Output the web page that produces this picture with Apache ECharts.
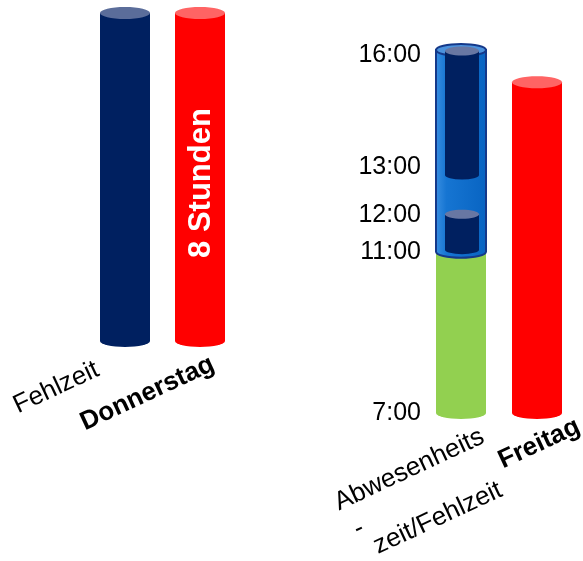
<!DOCTYPE html>
<html><head><meta charset="utf-8">
<script src="https://cdn.jsdelivr.net/npm/echarts@6/dist/echarts.min.js"></script>
<style>html,body{margin:0;padding:0;background:#fff}#c{width:583px;height:561px}</style>
</head><body><div id="c"></div>
<script>
// ---------- data ----------
const leftCategories = ['Fehlzeit', 'Donnerstag'];
const leftHours = [8, 8];
const leftBarText = '8 Stunden';
const rightCategories = ['Abwesenheits\n-\nzeit/Fehlzeit', 'Freitag'];
const absenceHours = [7, 11];          // green
const missingHours = [11, 16];         // blue
const navyHours = [[11, 11.95], [12.85, 16]];
const fridayHours = [7, 15.2];
const timeTicks = [7, 11, 12, 13, 16];

// ---------- styles ----------
const FONT = "'Liberation Sans', Arial, sans-serif";
const COL = {
  navy: '#002060', navyTop: '#5B6D9A',
  red: '#FF0000', redTop: '#FF6464',
  green: '#92D050', greenTop: '#B3E08A',
  blueStroke: '#15398A', blueTop: '#4B92DD',
  innerTop: '#6877A3'
};
const leftBold = [false, true];
const rightBold = [false, true];
const leftLabelOffset = [[-110, 66], [-118, 83]];
const rightLabelOffset = [[-125, 91], [-37, 49]];
const lineOffsets = [[0, 0], [6, 32], [17, 56]];
const tickShift = {16: 5, 13: -4, 12: 4};

function cylinder(cx, yTop, yBot, w, ry, fill, topFill, stroke, lw) {
  const rx = w / 2, l = cx - rx, r = cx + rx;
  return [
    {type: 'path', shape: {pathData: `M${l} ${yTop}L${l} ${yBot}A${rx} ${ry} 0 0 0 ${r} ${yBot}L${r} ${yTop}Z`},
     style: {fill: fill, stroke: stroke || null, lineWidth: lw || 0}},
    {type: 'ellipse', shape: {cx: cx, cy: yTop, rx: rx, ry: ry},
     style: {fill: topFill, stroke: stroke || null, lineWidth: lw || 0}}
  ];
}

const leftItems = leftHours.map((h, i) => ({cat: i, range: [0, h], kind: i === 0 ? 'navy' : 'red'}));
const rightItems = [
  {cat: 0, range: absenceHours, kind: 'green'},
  {cat: 0, range: missingHours, kind: 'blue'},
  ...navyHours.map(r => ({cat: 0, range: r, kind: 'inner'})),
  {cat: 1, range: fridayHours, kind: 'red'}
];

function makeRender(items) {
  return function (params, api) {
    const it = items[params.dataIndex];
    const b = api.coord([api.value(0), api.value(1)]);
    const t = api.coord([api.value(0), api.value(2)]);
    const cx = b[0];
    let children;
    if (it.kind === 'navy') children = cylinder(cx, t[1], b[1], 50, 6, COL.navy, COL.navyTop);
    else if (it.kind === 'red') children = cylinder(cx, t[1], b[1], 50, 6, COL.red, COL.redTop);
    else if (it.kind === 'green') children = cylinder(cx, t[1], b[1], 50, 6, COL.green, COL.greenTop);
    else if (it.kind === 'blue') {
      const grad = new echarts.graphic.LinearGradient(0, 0, 1, 0, [
        {offset: 0, color: '#3A8FE2'}, {offset: 0.22, color: '#1675D2'}, {offset: 1, color: '#0864C2'}]);
      children = cylinder(cx, t[1], b[1], 50, 6, grad, COL.blueTop, COL.blueStroke, 2);
    } else {
      children = cylinder(cx + 1, t[1] + 1, b[1] - 2, 34, 4.5, COL.navy, COL.innerTop);
    }
    if (params.seriesIndex === 0 && it.kind === 'red') {
      const m = api.coord([api.value(0), (api.value(1) + api.value(2)) / 2]);
      children.push({type: 'text', x: m[0] + 1, y: m[1] + 6, rotation: Math.PI / 2,
        style: {text: leftBarText, fill: '#fff', fontSize: 31, fontWeight: 'bold', fontFamily: FONT,
                align: 'center', verticalAlign: 'middle'}});
    }
    return {type: 'group', children: children};
  };
}

function makeLabelRender(cats, bold, offsets) {
  return function (params, api) {
    const i = params.dataIndex;
    const p = api.coord([api.value(0), api.value(1)]);
    const lines = cats[i].split('\n');
    return {
      type: 'group', x: p[0] + offsets[i][0], y: p[1] + offsets[i][1], rotation: 25 * Math.PI / 180,
      children: lines.map((s, k) => ({
        type: 'text', x: lineOffsets[k][0], y: lineOffsets[k][1],
        style: {text: s, fill: '#000', fontSize: 26, fontWeight: bold[i] ? 'bold' : 'normal',
                fontFamily: FONT, align: 'left', verticalAlign: 'middle'}
      }))
    };
  };
}

function tickFmt(v) {
  if (!timeTicks.includes(v)) return '';
  const s = tickShift[v];
  if (!s) return v + ':00';
  return (s > 0 ? '{dn' : '{up') + Math.abs(s) + '|' + v + ':00}';
}
const rich = {};
[3, 4, 5, 6].forEach(n => {
  rich['dn' + n] = {color: '#000', fontSize: 25, fontFamily: FONT, padding: [2 * n, 0, 0, 0]};
  rich['up' + n] = {color: '#000', fontSize: 25, fontFamily: FONT, padding: [0, 0, 2 * n, 0]};
});

const chart = echarts.init(document.getElementById('c'), null, {renderer: 'canvas'});
chart.setOption({
  animation: false,
  backgroundColor: '#ffffff',
  grid: [
    {left: 87.5, width: 150, top: 13, height: 328},
    {left: 423, width: 152, top: 50, height: 363}
  ],
  xAxis: [
    {type: 'category', gridIndex: 0, data: leftCategories, show: false},
    {type: 'category', gridIndex: 1, data: rightCategories, show: false}
  ],
  yAxis: [
    {type: 'value', gridIndex: 0, min: 0, max: 8, show: false},
    {type: 'value', gridIndex: 1, min: 7, max: 16, interval: 1,
     axisLine: {show: false}, axisTick: {show: false}, splitLine: {show: false},
     axisLabel: {margin: 2, color: '#000', fontSize: 25, fontFamily: FONT, formatter: tickFmt, rich: rich}}
  ],
  series: [
    {type: 'custom', xAxisIndex: 0, yAxisIndex: 0, renderItem: makeRender(leftItems),
     encode: {x: 0, y: [1, 2]}, data: leftItems.map(d => [d.cat, d.range[0], d.range[1]])},
    {type: 'custom', xAxisIndex: 1, yAxisIndex: 1, renderItem: makeRender(rightItems),
     encode: {x: 0, y: [1, 2]}, data: rightItems.map(d => [d.cat, d.range[0], d.range[1]])},
    {type: 'custom', xAxisIndex: 0, yAxisIndex: 0, renderItem: makeLabelRender(leftCategories, leftBold, leftLabelOffset),
     encode: {x: 0, y: 1}, data: leftCategories.map((c, i) => [i, 0])},
    {type: 'custom', xAxisIndex: 1, yAxisIndex: 1, renderItem: makeLabelRender(rightCategories, rightBold, rightLabelOffset),
     encode: {x: 0, y: 1}, data: rightCategories.map((c, i) => [i, 7])}
  ]
});
</script></body></html>
